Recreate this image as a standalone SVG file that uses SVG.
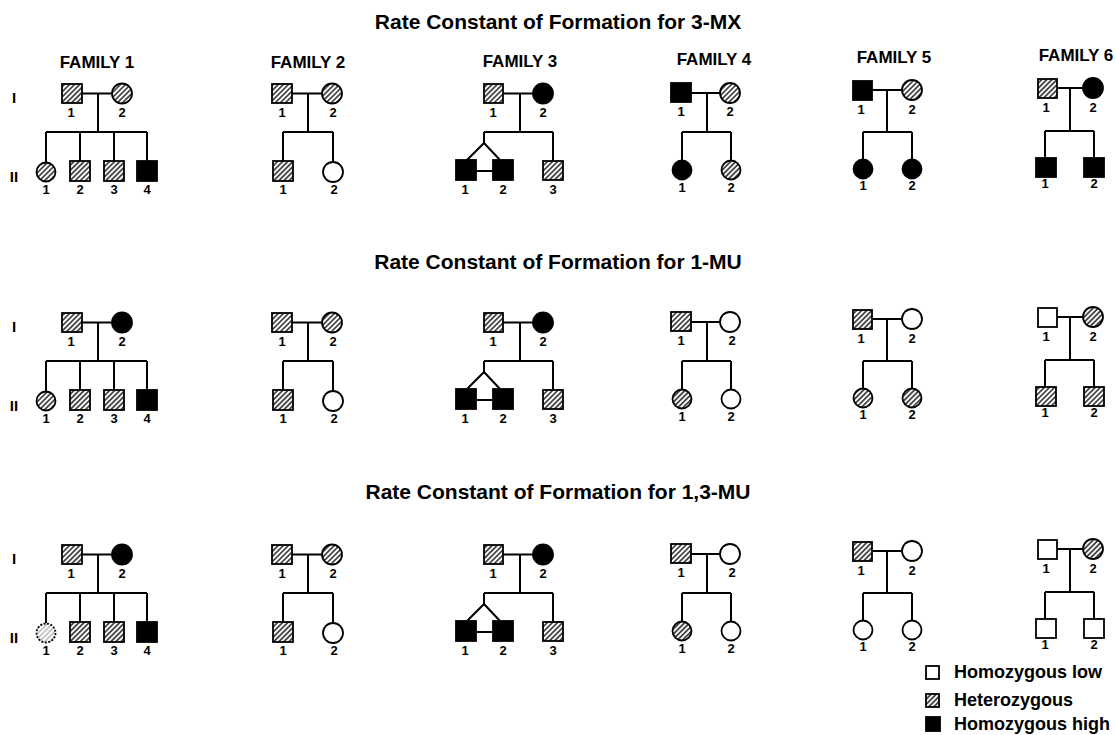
<svg xmlns="http://www.w3.org/2000/svg" width="1116" height="735" viewBox="0 0 1116 735">
<defs>
<pattern id="hatch" patternUnits="userSpaceOnUse" width="3.6" height="3.6" patternTransform="rotate(45)">
<rect width="3.6" height="3.6" fill="#fff"/>
<line x1="0.9" y1="0" x2="0.9" y2="3.6" stroke="#000" stroke-width="1.3"/>
</pattern>
<pattern id="hatchl" patternUnits="userSpaceOnUse" width="3.6" height="3.6" patternTransform="rotate(45)">
<rect width="3.6" height="3.6" fill="#fff"/>
<line x1="0.9" y1="0" x2="0.9" y2="3.6" stroke="#888" stroke-width="0.9"/>
</pattern>
</defs>
<style>
text{font-family:"Liberation Sans",Arial,sans-serif;font-weight:bold;fill:#000}
.t{font-size:21px;text-anchor:middle}
.fam{font-size:17px;text-anchor:middle}
.n{font-size:13px;text-anchor:middle}
.r{font-size:15px;text-anchor:middle}
.lg{font-size:18px}
.s{stroke:#000;stroke-width:1.8}
.h{fill:url(#hatch)}
.hl{fill:url(#hatchl);stroke-dasharray:2 1.5}
.b{fill:#000}
.o{fill:#fff}
.c{fill:none;stroke:#000;stroke-width:2}
</style>
<rect width="1116" height="735" fill="#fff"/>

<g id="titles">
<text class="t" x="558" y="29">Rate Constant of Formation for 3-MX</text>
<text class="t" x="558" y="269">Rate Constant of Formation for 1-MU</text>
<text class="t" x="558" y="499">Rate Constant of Formation for 1,3-MU</text>
<text class="fam" x="97" y="68">FAMILY 1</text>
<text class="fam" x="308" y="68">FAMILY 2</text>
<text class="fam" x="520" y="67">FAMILY 3</text>
<text class="fam" x="714" y="65">FAMILY 4</text>
<text class="fam" x="894" y="63">FAMILY 5</text>
<text class="fam" x="1076" y="61">FAMILY 6</text>
</g>

<!-- ROW 1 -->
<g id="row1">
<g id="row1-generations"><text class="r" x="14" y="103">I</text><text class="r" x="14" y="182">II</text></g>
<g id="row1-connectors" class="c">
<path d="M82 93.5H112M98 93.5V132M46 132H147M46 132V162M80 132V161M114 132V161M147 132V161"/>
<path d="M292 93.5H322M308 93.5V132M283 132H333M283 132V161M333 132V162"/>
<path d="M503 93.5H533M520 93.5V132M484 132H553M484 132V143L467 160M484 143L500 160M476 171H493M553 132V161"/>
<path d="M691 93H720M707 93V132M682 132H731M682 132V160M731 132V160"/>
<path d="M872 90H902M887 90V132M863 132H912M863 132V159M912 132V159"/>
<path d="M1057 88H1083M1070 88V131M1045 131H1094M1045 131V158M1094 131V158"/>
</g>
<g id="r1f1-I1"><rect class="s h" x="62" y="84" width="20" height="19"/><text class="n" x="71" y="117">1</text></g>
<g id="r1f1-I2"><circle class="s h" cx="122" cy="93.5" r="10"/><text class="n" x="122" y="117">2</text></g>
<g id="r1f1-II1"><circle class="s h" cx="46" cy="172" r="9.5"/><text class="n" x="46" y="194">1</text></g>
<g id="r1f1-II2"><rect class="s h" x="70" y="161" width="20" height="20"/><text class="n" x="80" y="194">2</text></g>
<g id="r1f1-II3"><rect class="s h" x="104" y="161" width="20" height="20"/><text class="n" x="114" y="194">3</text></g>
<g id="r1f1-II4"><rect class="s b" x="137" y="161" width="20" height="20"/><text class="n" x="147" y="194">4</text></g>
<g id="r1f2-I1"><rect class="s h" x="272" y="84" width="20" height="19"/><text class="n" x="282" y="117">1</text></g>
<g id="r1f2-I2"><circle class="s h" cx="332" cy="93.5" r="10"/><text class="n" x="333" y="117">2</text></g>
<g id="r1f2-II1"><rect class="s h" x="273" y="161" width="20" height="20"/><text class="n" x="283" y="194">1</text></g>
<g id="r1f2-II2"><circle class="s o" cx="333" cy="172" r="10"/><text class="n" x="334" y="194">2</text></g>
<g id="r1f3-I1"><rect class="s h" x="484" y="84" width="19" height="19"/><text class="n" x="493" y="117">1</text></g>
<g id="r1f3-I2"><circle class="s b" cx="543" cy="93.5" r="10"/><text class="n" x="543" y="117">2</text></g>
<g id="r1f3-II1"><rect class="s b" x="456" y="160" width="20" height="20"/><text class="n" x="465" y="194">1</text></g>
<g id="r1f3-II2"><rect class="s b" x="493" y="160" width="20" height="20"/><text class="n" x="503" y="194">2</text></g>
<g id="r1f3-II3"><rect class="s h" x="543" y="161" width="20" height="19"/><text class="n" x="553" y="194">3</text></g>
<g id="r1f4-I1"><rect class="s b" x="671" y="83" width="20" height="19"/><text class="n" x="681" y="116">1</text></g>
<g id="r1f4-I2"><circle class="s h" cx="730" cy="93" r="10"/><text class="n" x="730" y="116">2</text></g>
<g id="r1f4-II1"><circle class="s b" cx="682" cy="170" r="9.5"/><text class="n" x="682" y="192">1</text></g>
<g id="r1f4-II2"><circle class="s h" cx="731" cy="170" r="9.5"/><text class="n" x="731" y="192">2</text></g>
<g id="r1f5-I1"><rect class="s b" x="853" y="81" width="19" height="19"/><text class="n" x="861" y="114">1</text></g>
<g id="r1f5-I2"><circle class="s h" cx="912" cy="90" r="10"/><text class="n" x="912" y="114">2</text></g>
<g id="r1f5-II1"><circle class="s b" cx="863" cy="169" r="9.5"/><text class="n" x="863" y="190">1</text></g>
<g id="r1f5-II2"><circle class="s b" cx="912" cy="169" r="9.5"/><text class="n" x="912" y="190">2</text></g>
<g id="r1f6-I1"><rect class="s h" x="1038" y="79" width="19" height="19"/><text class="n" x="1046" y="112">1</text></g>
<g id="r1f6-I2"><circle class="s b" cx="1093" cy="88" r="10"/><text class="n" x="1093" y="112">2</text></g>
<g id="r1f6-II1"><rect class="s b" x="1036" y="158" width="20" height="19"/><text class="n" x="1045" y="188">1</text></g>
<g id="r1f6-II2"><rect class="s b" x="1084" y="158" width="20" height="19"/><text class="n" x="1094" y="188">2</text></g>
</g>

<!-- ROW 2 -->
<g id="row2" transform="translate(0,229)">
<g id="row2-generations"><text class="r" x="14" y="103">I</text><text class="r" x="14" y="182">II</text></g>
<g id="row2-connectors" class="c">
<path d="M82 93.5H112M98 93.5V132M46 132H147M46 132V162M80 132V161M114 132V161M147 132V161"/>
<path d="M292 93.5H322M308 93.5V132M283 132H333M283 132V161M333 132V162"/>
<path d="M503 93.5H533M520 93.5V132M484 132H553M484 132V143L467 160M484 143L500 160M476 171H493M553 132V161"/>
<path d="M691 93H720M707 93V132M682 132H731M682 132V160M731 132V160"/>
<path d="M872 90H902M887 90V132M863 132H912M863 132V159M912 132V159"/>
<path d="M1057 88H1083M1070 88V131M1045 131H1094M1045 131V158M1094 131V158"/>
</g>
<g id="r2f1-I1"><rect class="s h" x="62" y="84" width="20" height="19"/><text class="n" x="71" y="117">1</text></g>
<g id="r2f1-I2"><circle class="s b" cx="122" cy="93.5" r="10"/><text class="n" x="122" y="117">2</text></g>
<g id="r2f1-II1"><circle class="s h" cx="46" cy="172" r="9.5"/><text class="n" x="46" y="194">1</text></g>
<g id="r2f1-II2"><rect class="s h" x="70" y="161" width="20" height="20"/><text class="n" x="80" y="194">2</text></g>
<g id="r2f1-II3"><rect class="s h" x="104" y="161" width="20" height="20"/><text class="n" x="114" y="194">3</text></g>
<g id="r2f1-II4"><rect class="s b" x="137" y="161" width="20" height="20"/><text class="n" x="147" y="194">4</text></g>
<g id="r2f2-I1"><rect class="s h" x="272" y="84" width="20" height="19"/><text class="n" x="282" y="117">1</text></g>
<g id="r2f2-I2"><circle class="s h" cx="332" cy="93.5" r="10"/><text class="n" x="333" y="117">2</text></g>
<g id="r2f2-II1"><rect class="s h" x="273" y="161" width="20" height="20"/><text class="n" x="283" y="194">1</text></g>
<g id="r2f2-II2"><circle class="s o" cx="333" cy="172" r="10"/><text class="n" x="334" y="194">2</text></g>
<g id="r2f3-I1"><rect class="s h" x="484" y="84" width="19" height="19"/><text class="n" x="493" y="117">1</text></g>
<g id="r2f3-I2"><circle class="s b" cx="543" cy="93.5" r="10"/><text class="n" x="543" y="117">2</text></g>
<g id="r2f3-II1"><rect class="s b" x="456" y="160" width="20" height="20"/><text class="n" x="465" y="194">1</text></g>
<g id="r2f3-II2"><rect class="s b" x="493" y="160" width="20" height="20"/><text class="n" x="503" y="194">2</text></g>
<g id="r2f3-II3"><rect class="s h" x="543" y="161" width="20" height="19"/><text class="n" x="553" y="194">3</text></g>
<g id="r2f4-I1"><rect class="s h" x="671" y="83" width="20" height="19"/><text class="n" x="681" y="116">1</text></g>
<g id="r2f4-I2"><circle class="s o" cx="730" cy="93" r="10"/><text class="n" x="732" y="116">2</text></g>
<g id="r2f4-II1"><circle class="s h" cx="682" cy="170" r="9.5"/><text class="n" x="682" y="192">1</text></g>
<g id="r2f4-II2"><circle class="s o" cx="731" cy="170" r="9.5"/><text class="n" x="731" y="192">2</text></g>
<g id="r2f5-I1"><rect class="s h" x="853" y="81" width="19" height="19"/><text class="n" x="861" y="114">1</text></g>
<g id="r2f5-I2"><circle class="s o" cx="912" cy="90" r="10"/><text class="n" x="912" y="114">2</text></g>
<g id="r2f5-II1"><circle class="s h" cx="863" cy="169" r="9.5"/><text class="n" x="863" y="190">1</text></g>
<g id="r2f5-II2"><circle class="s h" cx="912" cy="169" r="9.5"/><text class="n" x="912" y="190">2</text></g>
<g id="r2f6-I1"><rect class="s o" x="1038" y="79" width="19" height="19"/><text class="n" x="1046" y="112">1</text></g>
<g id="r2f6-I2"><circle class="s h" cx="1093" cy="88" r="10"/><text class="n" x="1093" y="112">2</text></g>
<g id="r2f6-II1"><rect class="s h" x="1036" y="158" width="20" height="19"/><text class="n" x="1045" y="188">1</text></g>
<g id="r2f6-II2"><rect class="s h" x="1084" y="158" width="20" height="19"/><text class="n" x="1094" y="188">2</text></g>
</g>

<!-- ROW 3 -->
<g id="row3" transform="translate(0,461)">
<g id="row3-generations"><text class="r" x="14" y="103">I</text><text class="r" x="14" y="182">II</text></g>
<g id="row3-connectors" class="c">
<path d="M82 93.5H112M98 93.5V132M46 132H147M46 132V162M80 132V161M114 132V161M147 132V161"/>
<path d="M292 93.5H322M308 93.5V132M283 132H333M283 132V161M333 132V162"/>
<path d="M503 93.5H533M520 93.5V132M484 132H553M484 132V143L467 160M484 143L500 160M476 171H493M553 132V161"/>
<path d="M691 93H720M707 93V132M682 132H731M682 132V160M731 132V160"/>
<path d="M872 90H902M887 90V132M863 132H912M863 132V159M912 132V159"/>
<path d="M1057 88H1083M1070 88V131M1045 131H1094M1045 131V158M1094 131V158"/>
</g>
<g id="r3f1-I1"><rect class="s h" x="62" y="84" width="20" height="19"/><text class="n" x="71" y="117">1</text></g>
<g id="r3f1-I2"><circle class="s b" cx="122" cy="93.5" r="10"/><text class="n" x="122" y="117">2</text></g>
<g id="r3f1-II1"><circle class="s hl" cx="46" cy="172" r="9.5"/><text class="n" x="46" y="194">1</text></g>
<g id="r3f1-II2"><rect class="s h" x="70" y="161" width="20" height="20"/><text class="n" x="80" y="194">2</text></g>
<g id="r3f1-II3"><rect class="s h" x="104" y="161" width="20" height="20"/><text class="n" x="114" y="194">3</text></g>
<g id="r3f1-II4"><rect class="s b" x="137" y="161" width="20" height="20"/><text class="n" x="147" y="194">4</text></g>
<g id="r3f2-I1"><rect class="s h" x="272" y="84" width="20" height="19"/><text class="n" x="282" y="117">1</text></g>
<g id="r3f2-I2"><circle class="s h" cx="332" cy="93.5" r="10"/><text class="n" x="333" y="117">2</text></g>
<g id="r3f2-II1"><rect class="s h" x="273" y="161" width="20" height="20"/><text class="n" x="283" y="194">1</text></g>
<g id="r3f2-II2"><circle class="s o" cx="333" cy="172" r="10"/><text class="n" x="334" y="194">2</text></g>
<g id="r3f3-I1"><rect class="s h" x="484" y="84" width="19" height="19"/><text class="n" x="493" y="117">1</text></g>
<g id="r3f3-I2"><circle class="s b" cx="543" cy="93.5" r="10"/><text class="n" x="543" y="117">2</text></g>
<g id="r3f3-II1"><rect class="s b" x="456" y="160" width="20" height="20"/><text class="n" x="465" y="194">1</text></g>
<g id="r3f3-II2"><rect class="s b" x="493" y="160" width="20" height="20"/><text class="n" x="503" y="194">2</text></g>
<g id="r3f3-II3"><rect class="s h" x="543" y="161" width="20" height="19"/><text class="n" x="553" y="194">3</text></g>
<g id="r3f4-I1"><rect class="s h" x="671" y="83" width="20" height="19"/><text class="n" x="681" y="116">1</text></g>
<g id="r3f4-I2"><circle class="s o" cx="730" cy="93" r="10"/><text class="n" x="732" y="116">2</text></g>
<g id="r3f4-II1"><circle class="s h" cx="682" cy="170" r="9.5"/><text class="n" x="682" y="192">1</text></g>
<g id="r3f4-II2"><circle class="s o" cx="731" cy="170" r="9.5"/><text class="n" x="731" y="192">2</text></g>
<g id="r3f5-I1"><rect class="s h" x="853" y="81" width="19" height="19"/><text class="n" x="861" y="114">1</text></g>
<g id="r3f5-I2"><circle class="s o" cx="912" cy="90" r="10"/><text class="n" x="912" y="114">2</text></g>
<g id="r3f5-II1"><circle class="s o" cx="863" cy="169" r="9.5"/><text class="n" x="863" y="190">1</text></g>
<g id="r3f5-II2"><circle class="s o" cx="912" cy="169" r="9.5"/><text class="n" x="912" y="190">2</text></g>
<g id="r3f6-I1"><rect class="s o" x="1038" y="79" width="19" height="19"/><text class="n" x="1046" y="112">1</text></g>
<g id="r3f6-I2"><circle class="s h" cx="1093" cy="88" r="10"/><text class="n" x="1093" y="112">2</text></g>
<g id="r3f6-II1"><rect class="s o" x="1036" y="158" width="20" height="19"/><text class="n" x="1045" y="188">1</text></g>
<g id="r3f6-II2"><rect class="s o" x="1084" y="158" width="20" height="19"/><text class="n" x="1094" y="188">2</text></g>
</g>

<g id="legend">
<rect class="s o" x="926" y="666" width="13" height="13"/>
<text class="lg" x="954" y="678">Homozygous low</text>
<rect class="s h" x="926" y="694" width="13" height="13"/>
<text class="lg" x="954" y="706">Heterozygous</text>
<rect class="s b" x="926" y="717" width="14" height="14"/>
<text class="lg" x="954" y="730">Homozygous high</text>
</g>
</svg>
